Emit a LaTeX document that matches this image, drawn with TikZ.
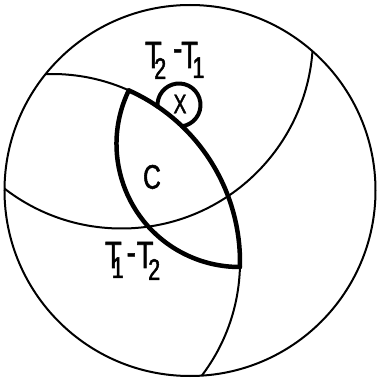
\documentclass[tikz,border=0pt]{standalone}
\usepackage{graphicx}
\usepackage{fontspec}
\newfontfamily\lett[FakeStretch=0.72,FakeBold=1.5]{Liberation Sans}
\newcommand{\bigsz}{\fontsize{38}{38}\selectfont}
\newcommand{\subsz}{\fontsize{30}{30}\selectfont}
\newcommand{\lowsub}[2]{\raisebox{-#1pt}{\subsz #2}}
\tikzset{
  thinline/.style={line width=2pt},
  thickline/.style={line width=4.5pt, line cap=round},
  loopline/.style={line width=4pt, line cap=round},
  lbl/.style={inner sep=0pt, outer sep=0pt, font=\lett}
}
\begin{document}
\begin{tikzpicture}[x=1pt,y=1pt]
\useasboundingbox (0,0) rectangle (378,378);
\coordinate (O) at (190,187.5);
\coordinate (cA) at (52,116);
\coordinate (cB) at (239.5,234);
\coordinate (cC) at (121.5,341);
\coordinate (cX) at (179,273);
% thin great circles clipped to the net
\begin{scope}
  \clip (O) circle (185.5);
  \draw[thinline] (cA) circle (188);
  \draw[thinline] (cC) circle (191.5);
\end{scope}
% primitive circle
\draw[thinline] (O) circle (185.5);
% thick lens boundary
\draw[thickline] (cA) ++(65.9:188) arc (65.9:-1.5:188);
\draw[thickline] (cB) ++(154.2:123) arc (154.2:270.2:123);
% small loop
\draw[loopline] (cX) ++(-82.4:21.5) arc (-82.4:184.3:21.5);
% labels
\node[lbl, anchor=base west] (t21) at (145,310)
  {\bigsz T\kern-7.5pt\lowsub{11}{2}\kern7pt\raisebox{7pt}{-}\kern-1pt T\kern-5.6pt\lowsub{10}{1}};
\node[lbl, anchor=base west] (t12) at (105,110)
  {\bigsz T\kern-10pt\lowsub{10}{1}\kern3pt\raisebox{3pt}{-}\kern1pt T\kern-5.4pt\lowsub{12}{2}};
\node[lbl, font=\lett\fontsize{34}{34}\selectfont] (c) at (152,201) {C};
\node[lbl, font=\lett\fontsize{27}{27}\selectfont] (x) at (180,274) {X};
\end{tikzpicture}
\end{document}
